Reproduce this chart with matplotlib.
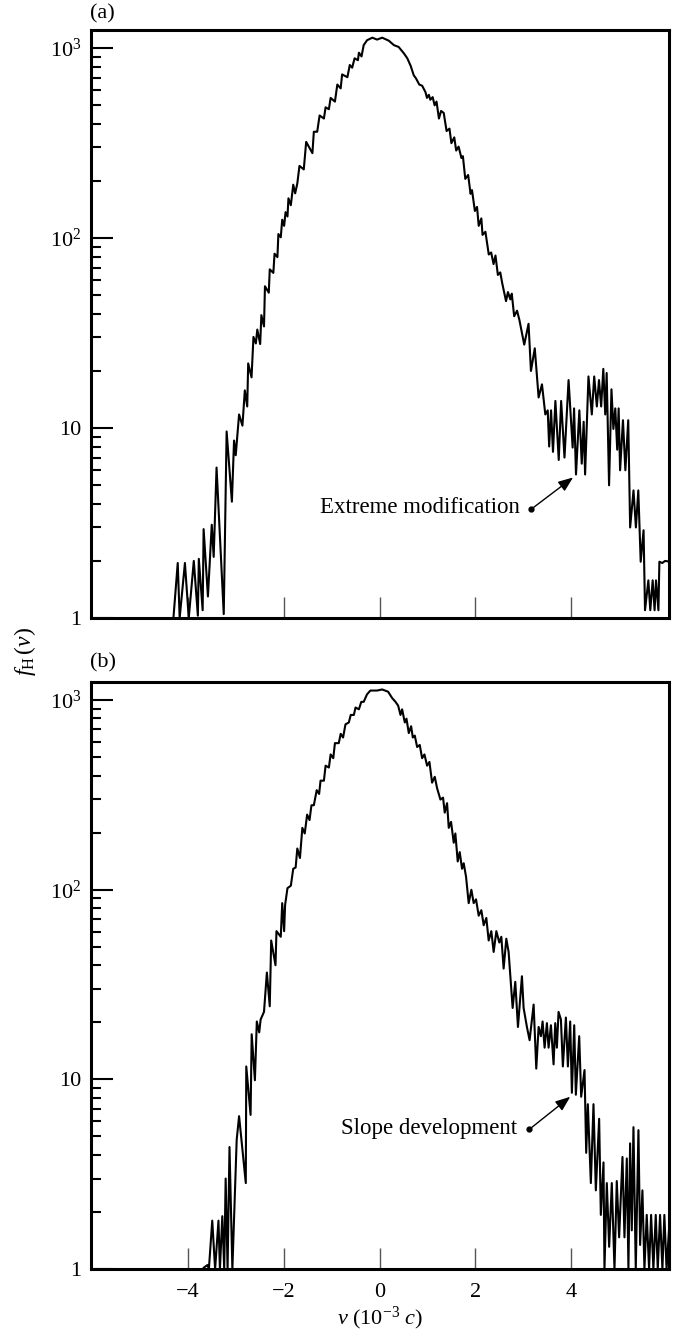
import numpy as np
import matplotlib
matplotlib.use("Agg")
import matplotlib.pyplot as plt
from matplotlib.ticker import FixedLocator, NullFormatter

plt.rcParams['font.family'] = ['Liberation Serif', 'DejaVu Serif']
plt.rcParams['mathtext.fontset'] = 'custom'
plt.rcParams['mathtext.rm'] = 'Liberation Serif'
plt.rcParams['mathtext.it'] = 'Liberation Serif:italic'

# panel (a): extreme modification
va = [-4.30, -4.21, -4.17, -4.06, -3.98, -3.875, -3.79, -3.77, -3.69, -3.67, -3.58, -3.50, -3.46,
      -3.40, -3.25, -3.19, -3.08, -3.035, -3.00, -2.93, -2.86, -2.81, -2.76, -2.74, -2.67, -2.63,
      -2.58, -2.55, -2.49, -2.465, -2.41, -2.39, -2.31, -2.29, -2.215, -2.19, -2.13, -2.11, -2.06,
      -2.03, -1.99, -1.96, -1.92, -1.90, -1.85, -1.80, -1.76, -1.715, -1.67, -1.58, -1.53, -1.40,
      -1.37, -1.30, -1.25, -1.16, -1.125, -1.056, -1.02, -0.93, -0.88, -0.81, -0.78, -0.67, -0.62,
      -0.57, -0.52, -0.45, -0.43, -0.375, -0.33, -0.26, -0.15, -0.05, 0.056, 0.195, 0.30, 0.40,
      0.51, 0.58, 0.65, 0.715, 0.76, 0.83, 0.89, 0.96, 0.99, 1.03, 1.06, 1.11, 1.15, 1.19, 1.24,
      1.285, 1.34, 1.40, 1.46, 1.50, 1.56, 1.60, 1.65, 1.71, 1.74, 1.79, 1.85, 1.90, 1.93, 1.99,
      2.035, 2.07, 2.125, 2.15, 2.21, 2.28, 2.33, 2.38, 2.42, 2.47, 2.52, 2.56, 2.64, 2.68, 2.73,
      2.76, 2.81, 2.87, 2.92, 3.02, 3.11, 3.16, 3.24, 3.32, 3.39, 3.46, 3.51, 3.54, 3.58, 3.62,
      3.67, 3.74, 3.79, 3.86, 3.945, 4.03, 4.06, 4.10, 4.17, 4.22, 4.26, 4.29, 4.36, 4.43, 4.48,
      4.535, 4.58, 4.625, 4.67, 4.71, 4.74, 4.79, 4.84, 4.88, 4.92, 4.96, 4.99, 5.02, 5.08, 5.13,
      5.19, 5.23, 5.30, 5.35, 5.40, 5.45, 5.51, 5.54, 5.61, 5.65, 5.70, 5.74, 5.77, 5.82, 5.84,
      5.90, 5.96, 6.06]
fa = [1.0, 1.95, 1.0, 1.95, 1.0, 2.0, 1.03, 2.05, 1.1, 2.94, 1.3, 3.1, 2.1,
      6.2, 1.05, 9.6, 4.1, 8.6, 7.2, 11.8, 10.3, 15.8, 13, 21.9, 18.5, 30.2,
      27.9, 33, 27.7, 39.3, 34.3, 55.8, 51.6, 68.5, 65.6, 82.8, 79.4, 105, 101,
      125, 116, 137, 130, 162, 149, 191, 172, 194, 240, 230, 321, 280,
      363, 363, 442, 426, 488, 477, 547, 523, 643, 614, 727, 703, 815,
      789, 884, 864, 946, 904, 1037, 1100, 1135, 1109, 1135, 1094, 1037, 1014,
      938, 884, 807, 719, 694, 643, 634, 586, 547, 568, 535, 552, 500, 523, 426,
      467, 456, 366, 377, 316, 339, 289, 303, 264, 270, 205, 215, 171, 179, 139,
      146, 116, 127, 104, 108, 82, 84, 73, 81, 64, 66, 58, 46.6, 52, 47.6,
      51, 38.8, 41.5, 37, 27.5, 35.4, 20, 26.3, 14.5, 17, 11.8, 12.4, 8.0, 12.4, 7.5,
      13.9, 6.8, 13.9, 7.0, 17.9, 7.9, 12.7, 5.7, 12.4, 6.5, 10.8, 5.7, 18.7, 11.8, 18.7,
      13, 17.9, 13, 20.5, 11.8, 19.5, 5.0, 16, 9.9, 12.7, 7.7, 12.7, 6.0, 11, 6.0,
      11, 3.0, 4.7, 3.0, 4.7, 1.98, 2.9, 1.1, 1.58, 1.1, 1.58, 1.1, 1.58, 1.1, 1.98,
      1.95, 2.0, 1.98]

# panel (b): slope development
vb = [-3.69, -3.66, -3.59, -3.56, -3.49, -3.43, -3.36, -3.33, -3.28, -3.24, -3.21, -3.17, -3.13,
      -3.07, -2.98, -2.93, -2.79, -2.78, -2.69, -2.667, -2.60, -2.56, -2.51, -2.48, -2.41, -2.35,
      -2.29, -2.26, -2.17, -2.15, -2.06, -2.03, -1.99, -1.97, -1.92, -1.85, -1.80, -1.75, -1.715,
      -1.66, -1.61, -1.56, -1.51, -1.46, -1.42, -1.37, -1.31, -1.26, -1.23, -1.16, -1.125, -1.056,
      -1.02, -0.965, -0.93, -0.85, -0.81, -0.76, -0.71, -0.64, -0.60, -0.535, -0.50, -0.43, -0.38,
      -0.33, -0.26, -0.19, -0.05, 0.056, 0.18, 0.264, 0.334, 0.389, 0.438, 0.472, 0.528, 0.563,
      0.611, 0.66, 0.695, 0.736, 0.785, 0.84, 0.889, 0.938, 0.993, 1.042, 1.097, 1.153, 1.202,
      1.271, 1.326, 1.361, 1.41, 1.445, 1.493, 1.549, 1.583, 1.632, 1.674, 1.722, 1.757, 1.806,
      1.861, 1.917, 1.965, 2.014, 2.07, 2.125, 2.174, 2.229, 2.278, 2.333, 2.382, 2.438, 2.50,
      2.542, 2.59, 2.646, 2.694, 2.778, 2.833, 2.889, 2.972, 3.007, 3.076, 3.132, 3.216, 3.271,
      3.32, 3.368, 3.403, 3.445, 3.493, 3.528, 3.577, 3.632, 3.667, 3.701, 3.736, 3.785, 3.826,
      3.889, 3.931, 3.979, 4.014, 4.063, 4.097, 4.167, 4.208, 4.278, 4.313, 4.347, 4.41, 4.465,
      4.514, 4.583, 4.618, 4.674, 4.694, 4.743, 4.792, 4.847, 4.903, 4.951, 5.00, 5.07, 5.111,
      5.16, 5.194, 5.229, 5.264, 5.299, 5.347, 5.403, 5.438, 5.486, 5.528, 5.576, 5.625, 5.667,
      5.715, 5.764, 5.806, 5.854, 5.903, 5.944, 5.99, 6.06]
fb = [1.0, 1.02, 1.05, 1.0, 1.8, 1.0, 1.8, 1.0, 1.9, 1.0, 3.0, 1.0, 4.4,
      1.0, 4.8, 6.4, 2.84, 11.7, 6.5, 17.3, 9.9, 20.2, 17.7, 20.7, 22.7, 36.6,
      24.3, 54, 40, 60.5, 56.5, 85, 60.5, 83, 102, 105, 129, 131, 165,
      147, 212, 198, 249, 233, 279, 279, 335, 320, 376, 376, 451, 441,
      517, 494, 593, 593, 664, 635, 745, 762, 835, 835, 914, 894, 979,
      979, 1073, 1123, 1123, 1138, 1107, 1025, 979, 935, 835, 894, 762, 798,
      670, 728, 635, 650, 566, 580, 494, 517, 451, 472, 367, 394, 343,
      299, 306, 255, 286, 212, 228, 177, 198, 141, 158, 129, 138, 117,
      85, 100, 85, 89, 73, 78, 65, 71, 54, 60.5, 47, 60.5, 52.7,
      56.5, 38.4, 55.2, 47, 23.8, 32.7, 18.9, 35, 23.8, 18.9, 16.1, 24.8, 11.4,
      18.9, 16.9, 20.2, 14.7, 19.8, 14.7, 19.3, 12, 19.8, 14.7, 22.7, 20.7, 11.7,
      21.2, 11.7, 20.2, 8.5, 19.3, 8.3, 16.9, 8.1, 11.2, 4.1, 7.4, 2.84, 7.4,
      2.6, 6.2, 1.93, 3.65, 1.0, 2.84, 1.31, 2.84, 1.0, 2.91, 1.47, 3.9, 1.47,
      3.83, 1.0, 4.6, 1.6, 5.6, 1.0, 5.4, 1.34, 2.6, 1.0, 1.93, 1.0, 1.93,
      1.0, 1.93, 1.0, 1.93, 1.0, 1.93, 1.0, 1.93]

xticks = [-4, -2, 0, 2, 4]
yticks = [1, 10, 100, 1000]
ylabels = ['1', '10', '$10^2$', '$10^3$']
minor = [m * d for d in [1, 10, 100] for m in range(2, 10)]

fig = plt.figure(figsize=(6.76, 13.35), dpi=100)
ax_a = fig.add_axes([0.1346, 0.537, 0.855, 0.4405])
ax_b = fig.add_axes([0.1346, 0.0494, 0.855, 0.4397])


def style(ax, show_x):
    ax.set_yscale('log')
    ax.set_xlim(-6.02, 6.04)
    ax.set_ylim(1, 1245)
    for s in ax.spines.values():
        s.set_linewidth(2.2)
    ax.yaxis.set_major_locator(FixedLocator(yticks))
    ax.set_yticklabels(ylabels)
    ax.yaxis.set_minor_locator(FixedLocator(minor))
    ax.yaxis.set_minor_formatter(NullFormatter())
    ax.set_xticks(xticks)
    ax.tick_params(axis='y', which='major', direction='in', length=16, width=1.5,
                   labelsize=16, pad=7, right=False)
    ax.tick_params(axis='y', which='minor', direction='in', length=7.5, width=1.5, right=False)
    ax.tick_params(axis='x', which='both', direction='in', length=15, width=1.0,
                   color='#555555', labelsize=16, pad=10, top=False,
                   labelbottom=show_x)
    ax.minorticks_on()
    ax.xaxis.set_minor_locator(FixedLocator([]))


ax_a.plot(va, fa, color='k', lw=1.5)
ax_b.plot(vb, fb, color='k', lw=1.5)
style(ax_a, False)
style(ax_b, True)

arrow = dict(arrowstyle='-|>,head_length=0.9,head_width=0.35', color='k', lw=1.0,
             shrinkA=0, shrinkB=0)
ax_a.annotate('', xy=(4.04, 5.5), xytext=(3.17, 3.75), arrowprops=arrow)
ax_a.plot([3.17], [3.75], 'o', color='k', ms=3.5)
ax_a.text(2.92, 3.8, 'Extreme modification', ha='right', va='center', fontsize=16.5)

ax_b.annotate('', xy=(3.98, 8.1), xytext=(3.125, 5.45), arrowprops=arrow)
ax_b.plot([3.125], [5.45], 'o', color='k', ms=3.5)
ax_b.text(2.875, 5.5, 'Slope development', ha='right', va='center', fontsize=16.5)

fig.text(0.133, 0.9895, '(a)', fontsize=16, ha='left', va='center')
fig.text(0.133, 0.5035, '(b)', fontsize=16, ha='left', va='center')
fig.text(0.037, 0.512, r'$f_{\rm H}\,(v)$', fontsize=17, rotation=90, ha='center', va='center')
ax_b.set_xlabel(r'$v$ (10$^{-3}$ $c$)', fontsize=16, labelpad=2)

fig.savefig('out.png', dpi=100)
